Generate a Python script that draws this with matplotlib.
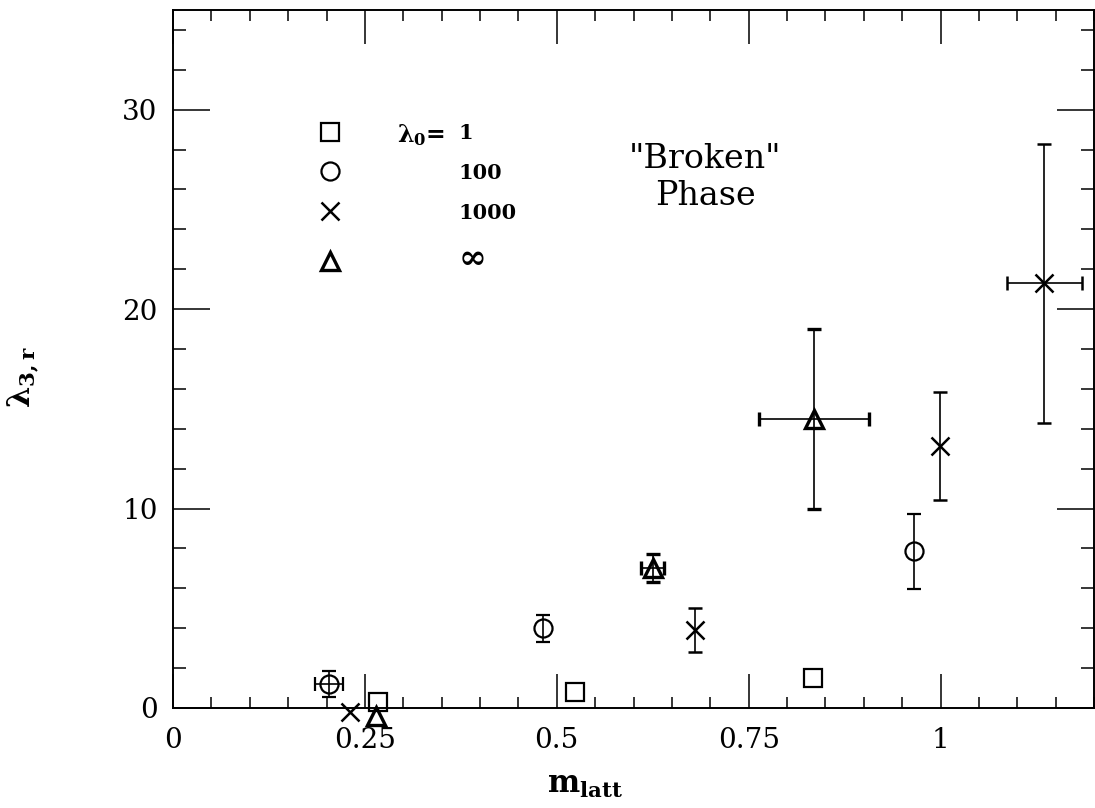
import numpy as np
import matplotlib
matplotlib.use("Agg")
import matplotlib.pyplot as plt
from matplotlib.ticker import MultipleLocator
from matplotlib.lines import Line2D

plt.rcParams['font.family'] = ['DejaVu Serif']
plt.rcParams['mathtext.fontset'] = 'dejavuserif'

nan = np.nan
# lambda_0 = 1 (squares)
sq_x = [0.267, 0.524, 0.834]
sq_y = [0.3, 0.8, 1.5]
# lambda_0 = 100 (circles)
ci_x = [0.203, 0.482, 0.966]
ci_y = [1.2, 4.0, 7.85]
ci_xerr = [0.018, nan, nan]
ci_yerr = [0.65, 0.67, 1.9]
# lambda_0 = 1000 (crosses)
cr_x = [0.230, 0.680, 0.999, 1.135]
cr_y = [-0.2, 3.9, 13.15, 21.3]
cr_xerr = [nan, nan, nan, 0.049]
cr_yerr = [nan, 1.1, 2.7, 7.0]
# lambda_0 = infinity (triangles)
tr_x = [0.265, 0.625, 0.835]
tr_y = [-0.4, 7.0, 14.5]
tr_xerr = [nan, 0.015, 0.072]
tr_yerr = [nan, 0.7, 4.5]

legend_labels = ["1", "100", "1000", "\u221e"]
x_ticks = [0, 0.25, 0.5, 0.75, 1.0]
x_ticklabels = ["0", "0.25", "0.5", "0.75", "1"]
y_ticks = [0, 10, 20, 30]
y_ticklabels = ["0", "10", "20", "30"]

W, H = 1095, 808
fig = plt.figure(figsize=(W / 100, H / 100), dpi=100)
ax = fig.add_axes([173 / W, 100 / H, 921 / W, 698 / H])
ax.set_xlim(0, 1.2)
ax.set_ylim(0, 35)

ebkw = dict(ls='none', ecolor='black', elinewidth=1.2, capsize=5,
            capthick=1.2, clip_on=False)
ax.errorbar(sq_x, sq_y, marker='s', ms=12.5, mfc='none', mec='black',
            mew=1.6, **ebkw)
ax.errorbar(ci_x, ci_y, xerr=ci_xerr, yerr=ci_yerr, marker='o', ms=13,
            mfc='none', mec='black', mew=1.6, **ebkw)
ax.errorbar(cr_x, cr_y, xerr=cr_xerr, yerr=cr_yerr, marker='x', ms=13,
            mec='black', mew=1.8, **ebkw)
ax.errorbar(tr_x, tr_y, xerr=tr_xerr, yerr=tr_yerr, marker='^', ms=13,
            mfc='none', mec='black', mew=2.4, **ebkw)

# ticks
ax.set_xticks(x_ticks)
ax.set_xticklabels(x_ticklabels)
ax.set_yticks(y_ticks)
ax.set_yticklabels(y_ticklabels)
ax.xaxis.set_minor_locator(MultipleLocator(0.05))
ax.yaxis.set_minor_locator(MultipleLocator(2))
ax.tick_params(which='both', direction='in', top=True, right=True,
               width=1.1, colors='black', labelsize=20)
ax.tick_params(axis='x', which='major', length=24.5, pad=14)
ax.tick_params(axis='x', which='minor', length=8)
ax.tick_params(axis='y', which='major', length=26.5, pad=11)
ax.tick_params(axis='y', which='minor', length=9.5)
for s in ax.spines.values():
    s.set_linewidth(1.4)

# axis labels
fig.text(23 / W, 1 - 377 / H, r'$\mathbf{\lambda_{3,r}}$', rotation=90,
         ha='center', va='center', fontsize=22)
fig.text(585 / W, 1 - 785 / H, r'$\mathbf{m_{latt}}$', ha='center',
         va='center', fontsize=22)

# annotation
ax.text(0.578, 0.7600, '"Broken"\nPhase', transform=ax.transAxes,
        ha='center', va='center', fontsize=24, linespacing=1.2)

# legend
handles = [
    Line2D([], [], ls='none', marker='s', ms=12.5, mfc='none', mec='black', mew=1.6),
    Line2D([], [], ls='none', marker='o', ms=13, mfc='none', mec='black', mew=1.6),
    Line2D([], [], ls='none', marker='x', ms=13, mec='black', mew=1.8),
    Line2D([], [], ls='none', marker='^', ms=13, mfc='none', mec='black', mew=2.4),
]
leg = ax.legend(handles, legend_labels, loc='upper left',
                bbox_to_anchor=(319.6 / W, 1 - 123 / H),
                bbox_transform=fig.transFigure, frameon=False,
                prop={'weight': 'bold', 'size': 15}, handlelength=1.0,
                handletextpad=5.65, labelspacing=0.95, borderpad=0,
                borderaxespad=0)
leg.get_texts()[3].set_fontsize(24)
fig.text(397 / W, 1 - 135 / H, r'$\mathbf{\lambda_0}$=', ha='left',
         va='center', fontsize=17, fontweight='bold')

fig.savefig('out.png', dpi=100)
